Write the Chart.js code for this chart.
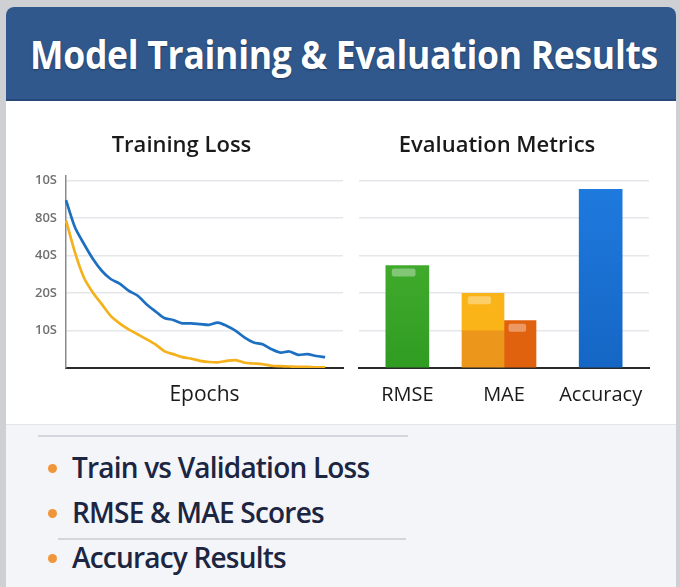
<!DOCTYPE html>
<html>
<head>
<meta charset="utf-8">
<script src="https://cdn.jsdelivr.net/npm/chart.js@4"></script>
<style>
  html, body { margin: 0; padding: 0; }
  body {
    width: 680px; height: 587px; overflow: hidden;
    background: #cfd0d4;
    font-family: "Open Sans", "Noto Sans", sans-serif;
    position: relative;
  }
  .card {
    position: absolute; left: 6px; top: 7px; width: 670px; height: 590px;
    background: #ffffff; border-radius: 8px 8px 0 0; overflow: hidden;
  }
  .header {
    position: absolute; left: 0; top: 0; width: 670px; height: 92px;
    background: #30588c; border-bottom: 2px solid #27497a;
  }
  .header h1 {
    margin: 0; color: #fff; font-weight: 700; font-size: 39px; line-height: 1;
    position: absolute; left: -40px; right: -40px; top: 27px; text-align: center;
    letter-spacing: -0.3px; text-shadow: 0 1px 2px rgba(0,0,0,0.35);
    transform: translateX(3px) scaleX(0.91);
  }
  .lower {
    position: absolute; left: 0; top: 417px; width: 670px; height: 180px;
    background: #f3f5f9; border-top: 1px solid #e2e4e8;
  }
  .rule { position: absolute; height: 2px; background: #d3d6dc; }
  .item {
    position: absolute; left: 42px; font-size: 28px; font-weight: 600;
    color: #1c2541; letter-spacing: -0.8px; line-height: 38px;
  }
  .item::before {
    content: ""; display: inline-block; width: 9px; height: 9px; border-radius: 50%;
    background: #f0953a; margin-right: 15px; vertical-align: middle; position: relative; top: -2px;
  }
  canvas { position: absolute; }
</style>
</head>
<body>
<div class="card">
  <div class="header"><h1>Model Training &amp; Evaluation Results</h1></div>
  <div class="lower">
    <div class="rule" style="left:32px; top:10px; width:370px;"></div>
    <div class="item" style="top:23px;">Train vs Validation Loss</div>
    <div class="item" style="top:68px;">RMSE &amp; MAE Scores</div>
    <div class="rule" style="left:52px; top:113px; width:348px;"></div>
    <div class="item" style="top:113px;">Accuracy Results</div>
  </div>
</div>
<canvas id="lossChart" width="325" height="295" style="left:20px; top:120px;"></canvas>
<canvas id="metricsChart" width="310" height="295" style="left:345px; top:120px;"></canvas>
<script>
// Training loss per epoch (chart units)
const epochs = [1,2,3,4,5,6,7,8,9,10,11,12,13,14,15,16,17,18,19,20,21,22,23,24,25,26,27,28,29,30,31,32];
const valLoss = [4.47,3.75,3.31,2.91,2.59,2.37,2.25,2.06,1.93,1.70,1.51,1.33,1.28,1.19,1.19,1.17,1.15,1.21,1.12,0.99,0.81,0.68,0.63,0.50,0.41,0.44,0.35,0.37,0.32,0.29];
const trainLoss = [3.93,3.08,2.41,2.01,1.70,1.39,1.19,1.03,0.90,0.77,0.63,0.45,0.37,0.29,0.25,0.19,0.16,0.15,0.19,0.21,0.14,0.12,0.10,0.06,0.05,0.04,0.03,0.03,0.02,0.02];
const lossTickLabels = ["", "10S", "20S", "40S", "80S", "10S"];

// Evaluation metrics
const metricNames = ["RMSE", "MAE", "Accuracy"];
const scoreValues = [2.73, null, 4.76];
const maeBase = [null, 0.99, null];
const maeUpper = [null, 1.00, null];
const maeSide = [null, 1.26, null];

const AXIS_MAX = 5.13;
const gridColor = "#e6e7ea";
const titleFont = { family: "Open Sans", size: 22, weight: "600" };
const labelFont = { family: "Open Sans", size: 20, weight: "500" };

function vGradient(ctx, top, bottom) {
  const chart = ctx.chart;
  const area = chart.chartArea;
  if (!area) return top;
  const g = chart.ctx.createLinearGradient(0, area.top, 0, area.bottom);
  g.addColorStop(0, top);
  g.addColorStop(1, bottom);
  return g;
}

// little glossy strip near the top of some bars
const glossPlugin = {
  id: "gloss",
  afterDatasetsDraw(chart) {
    const c = chart.ctx;
    chart.data.datasets.forEach((ds, di) => {
      if (!ds.gloss) return;
      chart.getDatasetMeta(di).data.forEach((bar, i) => {
        if (!ds.gloss[i] || ds.data[i] == null) return;
        const left = bar.x - bar.width / 2;
        c.save();
        c.fillStyle = "rgba(255,255,255,0.35)";
        c.beginPath();
        c.roundRect(left + bar.width * 0.14, bar.y + 3, bar.width * 0.55, 8, 2);
        c.fill();
        c.restore();
      });
    });
  }
};

new Chart(document.getElementById("lossChart"), {
  type: "line",
  data: {
    labels: epochs,
    datasets: [
      { label: "Validation", data: valLoss, borderColor: "#1d6fc2", borderWidth: 2.7, tension: 0.25, pointRadius: 0 },
      { label: "Train", data: trainLoss, borderColor: "#f4b11c", borderWidth: 2.7, tension: 0.25, pointRadius: 0 }
    ]
  },
  options: {
    responsive: false,
    animation: false,
    layout: { padding: { left: 0, right: 2, top: 0, bottom: 0 } },
    plugins: {
      legend: { display: false },
      tooltip: { enabled: false },
      title: {
        display: true, text: "Training Loss", color: "#1a1a1a",
        font: titleFont,
        padding: { top: 13, bottom: 16 }
      }
    },
    scales: {
      x: {
        offset: false,
        grid: { display: false },
        border: { color: "#2a2a2a", width: 2 },
        ticks: { display: false },
        title: {
          display: true, text: "Epochs", color: "#1a1a1a",
          font: { family: "Open Sans", size: 21, weight: "500" },
          padding: { top: 0, bottom: 7 }
        },
        afterFit(scale) { scale.height = 47; }
      },
      y: {
        min: 0, max: AXIS_MAX,
        afterBuildTicks(scale) { scale.ticks = [0,1,2,3,4,5].map(v => ({ value: v })); },
        grid: { color: gridColor, lineWidth: 1.5, drawTicks: false },
        border: { color: "#8a8a8a", width: 1.5 },
        ticks: {
          color: "#707070", padding: 9,
          font: { family: "Open Sans", size: 13, weight: "600" },
          callback: v => lossTickLabels[v]
        },
        afterFit(scale) { scale.width = 46; }
      }
    }
  }
});

new Chart(document.getElementById("metricsChart"), {
  type: "bar",
  data: {
    labels: metricNames,
    datasets: [
      {
        label: "Scores", data: scoreValues, stack: "main", barThickness: 43, gloss: [true, false, false],
        backgroundColor: ctx => ctx.dataIndex === 0
          ? vGradient(ctx, "#4fb634", "#2f9c22")
          : vGradient(ctx, "#1f7be0", "#1566c4")
      },
      { label: "MAE", data: maeBase, stack: "main", barThickness: 42, backgroundColor: "#ec961c" },
      { label: "MAE upper", data: maeUpper, stack: "main", barThickness: 42, backgroundColor: "#fbb418", gloss: [false, true, false] },
      { label: "MAE side", data: maeSide, stack: "side", barThickness: 32, backgroundColor: "#e0620f", gloss: [false, true, false] }
    ]
  },
  options: {
    responsive: false,
    animation: false,
    skipNull: true,
    layout: { padding: { left: 0, right: 6, top: 0, bottom: 0 } },
    plugins: {
      legend: { display: false },
      tooltip: { enabled: false },
      title: {
        display: true, text: "Evaluation Metrics", color: "#1a1a1a",
        font: titleFont,
        padding: { top: 13, bottom: 16 }
      }
    },
    scales: {
      x: {
        stacked: true,
        grid: { display: false },
        border: { color: "#2a2a2a", width: 2 },
        ticks: { color: "#1a1a1a", padding: 7, font: labelFont },
        afterFit(scale) { scale.height = 47; }
      },
      y: {
        stacked: true,
        min: 0, max: AXIS_MAX,
        afterBuildTicks(scale) { scale.ticks = [0,1,2,3,4,5].map(v => ({ value: v })); },
        grid: { color: gridColor, lineWidth: 1.5, drawTicks: false },
        border: { display: false },
        ticks: { display: false },
        afterFit(scale) { scale.width = 14; }
      }
    }
  },
  plugins: [glossPlugin]
});
</script>
</body>
</html>
